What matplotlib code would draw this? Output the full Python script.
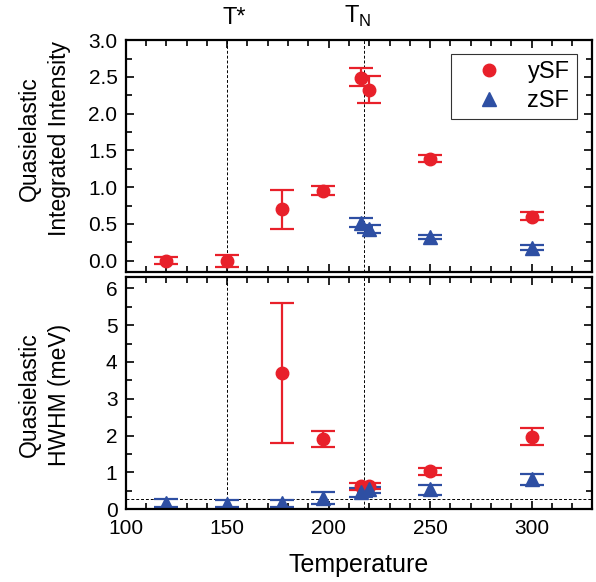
import matplotlib
matplotlib.use("Agg")
import matplotlib.pyplot as plt
from matplotlib.ticker import MultipleLocator, FormatStrFormatter
from matplotlib.lines import Line2D

plt.rcParams['font.family'] = ['Liberation Sans', 'DejaVu Sans']

# Top panel: integrated intensity
ysf_T_top = [120, 150, 177, 197, 216, 220, 250, 300]
ysf_I = [0.0, 0.0, 0.70, 0.95, 2.49, 2.32, 1.39, 0.60]
ysf_I_lo = [0.05, 0.08, 0.27, 0.05, 0.12, 0.18, 0.05, 0.05]
ysf_I_hi = [0.05, 0.08, 0.26, 0.06, 0.13, 0.19, 0.05, 0.06]

zsf_T_top = [216, 220, 250, 300]
zsf_I = [0.52, 0.43, 0.32, 0.18]
zsf_I_err = [0.06, 0.05, 0.03, 0.03]

# Bottom panel: HWHM (meV)
ysf_T_bot = [177, 197, 216, 220, 250, 300]
ysf_W = [3.71, 1.90, 0.62, 0.62, 1.04, 1.95]
ysf_W_lo = [1.90, 0.20, 0.10, 0.08, 0.10, 0.21]
ysf_W_hi = [1.90, 0.22, 0.10, 0.08, 0.08, 0.25]

zsf_T_bot = [120, 150, 177, 197, 216, 220, 250, 300]
zsf_W = [0.16, 0.14, 0.16, 0.30, 0.47, 0.55, 0.55, 0.81]
zsf_W_lo = [0.11, 0.09, 0.11, 0.16, 0.14, 0.12, 0.17, 0.16]
zsf_W_hi = [0.12, 0.10, 0.09, 0.16, 0.12, 0.06, 0.11, 0.16]

T_star = 150
T_N = 217.3
W_res = 0.27

red = '#E8202A'
blue = '#2E4FA3'

fig = plt.figure(figsize=(5.96, 5.82), dpi=100)
ax1 = fig.add_axes([0.211, 0.533, 0.783, 0.398])
ax2 = fig.add_axes([0.211, 0.125, 0.783, 0.3985])

ekw = dict(linestyle='none', elinewidth=1.6, capsize=8.5, capthick=1.6)
ms_o = 9
ms_t = 10.5

ax1.errorbar(ysf_T_top, ysf_I, yerr=[ysf_I_lo, ysf_I_hi], fmt='o', color=red, markersize=ms_o, **ekw)
ax1.errorbar(zsf_T_top, zsf_I, yerr=zsf_I_err, fmt='^', color=blue, markersize=ms_t, **ekw)

ax2.errorbar(ysf_T_bot, ysf_W, yerr=[ysf_W_lo, ysf_W_hi], fmt='o', color=red, markersize=ms_o, **ekw)
ax2.errorbar(zsf_T_bot, zsf_W, yerr=[zsf_W_lo, zsf_W_hi], fmt='^', color=blue, markersize=ms_t, **ekw)

for ax in (ax1, ax2):
    ax.axvline(T_star, color='k', linestyle=(0, (3, 2)), linewidth=0.7, zorder=0)
    ax.axvline(T_N, color='k', linestyle=(0, (3, 2)), linewidth=0.7, zorder=0)
    ax.set_xlim(100, 330)
    ax.xaxis.set_major_locator(MultipleLocator(50))
    ax.xaxis.set_minor_locator(MultipleLocator(10))
    ax.tick_params(which='both', direction='in', top=True, right=True,
                   labelsize=15, width=1.2)
    ax.tick_params(which='major', length=6)
    ax.tick_params(which='minor', length=4)
    ax.tick_params(axis='x', pad=7)
    ax.tick_params(axis='y', pad=6)
    for s in ax.spines.values():
        s.set_linewidth(1.6)

ax2.axhline(W_res, color='k', linestyle=(0, (3, 2)), linewidth=0.7, zorder=0)

ax1.set_ylim(-0.15, 3.0)
ax1.yaxis.set_major_locator(MultipleLocator(0.5))
ax1.yaxis.set_minor_locator(MultipleLocator(0.25))
ax1.yaxis.set_major_formatter(FormatStrFormatter('%.1f'))
ax1.tick_params(labelbottom=False)

ax2.set_ylim(0, 6.3)
ax2.yaxis.set_major_locator(MultipleLocator(1))
ax2.yaxis.set_minor_locator(MultipleLocator(0.5))

fig.text(0.0747, 1 - 139 / 582, 'Quasielastic\nIntegrated Intensity', rotation=90,
         ha='center', va='center', fontsize=16.5, linespacing=1.4, multialignment='center')
fig.text(0.0747, 1 - 395 / 582, 'Quasielastic\nHWHM (meV)', rotation=90,
         ha='center', va='center', fontsize=16.5, linespacing=1.4, multialignment='center')
ax2.set_xlabel('Temperature', fontsize=18, labelpad=11)

ax1.text(153.6, 1.05, 'T*', transform=ax1.get_xaxis_transform(),
         ha='center', va='bottom', fontsize=17)
ax1.text(214.4, 1.05, r'T$_{\mathregular{N}}$', transform=ax1.get_xaxis_transform(),
         ha='center', va='bottom', fontsize=17)

handles = [Line2D([], [], linestyle='none', marker='o', color=red, markersize=ms_o),
           Line2D([], [], linestyle='none', marker='^', color=blue, markersize=ms_t)]
leg = ax1.legend(handles, ['ySF', 'zSF'], loc='upper right',
                 bbox_to_anchor=(0.966, 0.94), fontsize=17,
                 frameon=True, fancybox=False, edgecolor='k', handletextpad=0.34,
                 borderpad=0.3, labelspacing=0.3, handlelength=2.6,
                 borderaxespad=0)
leg.get_frame().set_linewidth(0.8)

fig.savefig('out.png', dpi=100)
